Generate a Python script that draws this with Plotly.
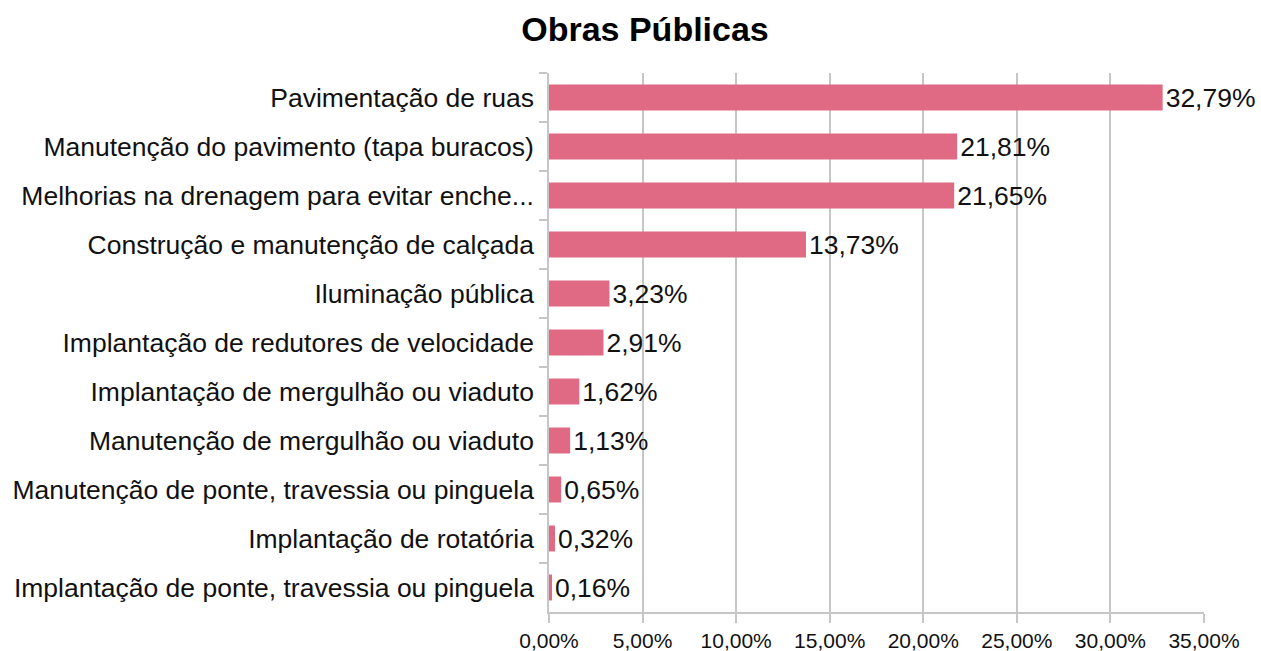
import plotly.graph_objects as go

categories = [
    "Pavimentação de ruas",
    "Manutenção do pavimento (tapa buracos)",
    "Melhorias na drenagem para evitar enche...",
    "Construção e manutenção de calçada",
    "Iluminação pública",
    "Implantação de redutores de velocidade",
    "Implantação de mergulhão ou viaduto",
    "Manutenção de mergulhão ou viaduto",
    "Manutenção de ponte, travessia ou pinguela",
    "Implantação de rotatória",
    "Implantação de ponte, travessia ou pinguela",
]
values = [32.79, 21.81, 21.65, 13.73, 3.23, 2.91, 1.62, 1.13, 0.65, 0.32, 0.16]
tick_values = [0, 5, 10, 15, 20, 25, 30, 35]
tick_labels = ["0,00%", "5,00%", "10,00%", "15,00%", "20,00%", "25,00%", "30,00%", "35,00%"]
value_labels = [f"{v:.2f}%".replace(".", ",") for v in values]

FONT = "Liberation Sans, Arial, sans-serif"

fig = go.Figure(
    go.Bar(
        x=values,
        y=categories,
        orientation="h",
        marker=dict(color="#E06A84", line=dict(width=0)),
        text=value_labels,
        texttemplate="%{text}",
        textposition="outside",
        textfont=dict(family=FONT, size=26.5, color="#111111"),
        cliponaxis=False,
        constraintext="none",
        hoverinfo="skip",
    )
)

fig.update_layout(
    width=1261,
    height=651,
    paper_bgcolor="white",
    plot_bgcolor="white",
    margin=dict(l=549, r=57, t=73, b=39, autoexpand=False),
    bargap=0.47,
    showlegend=False,
    font=dict(family=FONT, color="#111111"),
    title=dict(
        text="<b>Obras Públicas</b>",
        x=0.5115,
        xref="container",
        xanchor="center",
        y=0.955,
        yref="container",
        yanchor="middle",
        font=dict(family=FONT, size=34, color="#000000"),
    ),
)

fig.update_xaxes(
    range=[0, 35],
    tickvals=tick_values,
    ticktext=tick_labels,
    showgrid=True,
    gridcolor="#C6C6C6",
    gridwidth=1.5,
    zeroline=False,
    showline=True,
    linecolor="#C6C6C6",
    linewidth=1.5,
    ticks="outside",
    ticklen=9,
    tickcolor="#C6C6C6",
    tickwidth=1.5,
    tickfont=dict(family=FONT, size=21, color="#111111"),
    fixedrange=True,
)

fig.update_yaxes(
    autorange="reversed",
    showline=True,
    linecolor="#C6C6C6",
    linewidth=1.5,
    ticks="outside",
    tickson="boundaries",
    ticklen=8,
    tickcolor="#C6C6C6",
    tickwidth=1.5,
    tickfont=dict(family=FONT, size=26.5, color="#111111"),
    ticklabelstandoff=8,
    showgrid=False,
    fixedrange=True,
)

fig.write_html(
    "out.html",
    config={"displayModeBar": False},
    post_script="document.body.style.margin='0';",
)
